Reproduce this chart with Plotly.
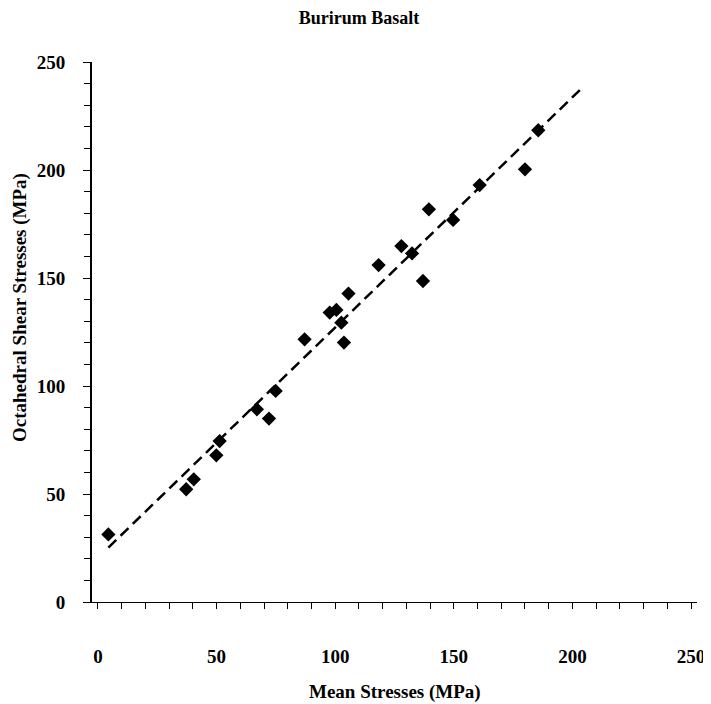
import plotly.graph_objects as go

# Data
mean_stress = [4.4, 37.2, 40.4, 49.9, 51.3, 67.0, 72.1, 74.9, 87.1, 97.7, 100.5,
               102.6, 103.7, 105.6, 118.3, 127.9, 132.4, 137.0, 139.5, 149.7,
               160.9, 180.0, 185.6]
oct_shear = [31.3, 52.2, 56.8, 67.9, 74.5, 89.2, 84.9, 97.7, 121.6, 134.0, 135.2,
             129.3, 120.1, 142.8, 156.0, 164.8, 161.4, 148.6, 181.8, 176.9,
             193.0, 200.3, 218.4]

# Fitted line (as drawn): y = slope * x + intercept over fit_x
slope = 1.066
intercept = 20.5
fit_x = [4.4, 204.6]
fit_y = [slope * x + intercept for x in fit_x]

x_ticks = [0, 50, 100, 150, 200, 250]
y_ticks = [0, 50, 100, 150, 200, 250]

FONT = "Liberation Serif"

fig = go.Figure()
fig.add_trace(go.Scatter(
    x=fit_x, y=fit_y, mode="lines",
    line=dict(color="black", width=2.5, dash="11px,6px"),
    showlegend=False, hoverinfo="skip"))
fig.add_trace(go.Scatter(
    x=mean_stress, y=oct_shear, mode="markers",
    marker=dict(symbol="diamond", size=11, color="black"),
    showlegend=False))

fig.update_layout(
    width=703, height=696,
    paper_bgcolor="white", plot_bgcolor="white",
    margin=dict(l=84, r=14, t=54, b=102, autoexpand=False),
    font=dict(family=FONT, color="black", size=19),
    title=dict(text="<b>Burirum Basalt</b>", x=0.4415, xref="paper",
               xanchor="center", y=1 - 10 / 696, yref="container",
               yanchor="middle", font=dict(family=FONT, size=18)),
    xaxis=dict(
        range=[-2.5, 252.5], tickvals=x_ticks, showgrid=False, zeroline=False,
        showline=True, linecolor="black", linewidth=1, automargin=False,
        ticks="outside", ticklen=6, tickcolor="black", tickwidth=1,
        minor=dict(dtick=10, ticks="outside", ticklen=6, tickcolor="black"),
        tickfont=dict(family=FONT, size=19, weight="bold"),
        ticklabelstandoff=31,
    ),
    yaxis=dict(
        range=[0, 250], tickvals=y_ticks, showgrid=False, zeroline=False,
        showline=True, linecolor="black", linewidth=2, automargin=False,
        ticks="outside", ticklen=7, tickcolor="black", tickwidth=1,
        minor=dict(dtick=10, ticks="outside", ticklen=6, tickcolor="black"),
        tickfont=dict(family=FONT, size=19, weight="bold"),
        ticklabelstandoff=14,
    ),
    annotations=[
        dict(text="<b>Mean Stresses (MPa)</b>", x=0.5, xref="paper",
             y=(602 - 692) / 540, yref="paper", xanchor="center",
             yanchor="middle", showarrow=False,
             font=dict(family=FONT, size=19)),
        dict(text="<b>Octahedral Shear Stresses (MPa)</b>",
             x=(20 - 92) / 605, xref="paper", y=(602 - 308) / 540,
             yref="paper", xanchor="center", yanchor="middle",
             textangle=-90, showarrow=False,
             font=dict(family=FONT, size=19)),
    ],
)

fig.write_html("out.html")
